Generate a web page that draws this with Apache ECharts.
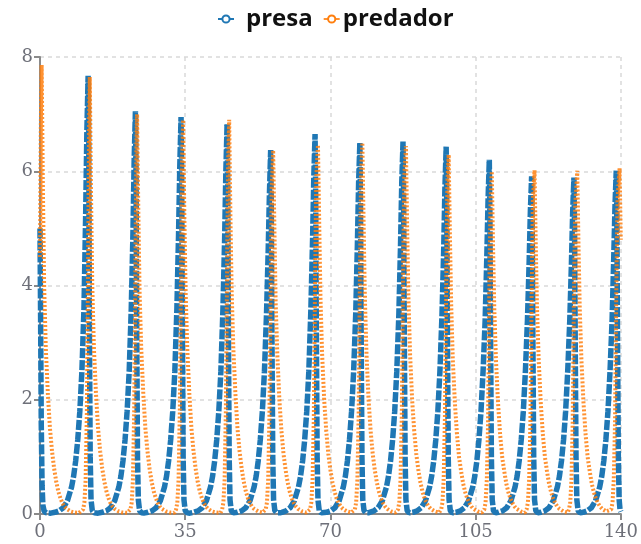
<!DOCTYPE html>
<html>
<head>
<meta charset="utf-8">
<script src="https://cdn.jsdelivr.net/npm/echarts@6/dist/echarts.min.js"></script>
<style>html,body{margin:0;padding:0;background:#fff}#c{width:641px;height:544px}</style>
</head>
<body>
<div id="c"></div>
<script>
var xTicks = [0, 35, 70, 105, 140];
var yTicks = [0, 2, 4, 6, 8];
var seriesNames = ['presa', 'predador'];

var presaT = [0,0.15,0.3,0.5,0.7,1.0,1.5,
2.6,3.6,4.6,5.6,6.6,7.6,8.1,8.6,9.1,9.6,10.1,10.6,11.0,11.3,11.6,11.75,11.9,12.1,12.3,12.6,13.1,
14.0,15.0,16.0,17.0,18.0,19.0,19.5,20.0,20.5,21.0,21.5,22.0,22.4,22.7,23.0,23.15,23.3,23.5,23.7,24.0,24.5,
25.0,26.0,27.0,28.0,29.0,30.0,30.5,31.0,31.5,32.0,32.5,33.0,33.4,33.7,34.0,34.15,34.3,34.5,34.7,35.0,35.5,
36.1,37.1,38.1,39.1,40.1,41.1,41.6,42.1,42.6,43.1,43.6,44.1,44.5,44.8,45.1,45.25,45.4,45.6,45.8,46.1,46.6,
47.6,48.6,49.6,50.6,51.6,52.1,52.6,53.1,53.6,54.1,54.6,55.0,55.3,55.6,55.75,55.9,56.1,56.3,56.6,57.1,
57.8,58.3,59.3,60.3,61.3,62.3,62.8,63.3,63.8,64.3,64.8,65.3,65.7,66.0,66.3,66.45,66.6,66.8,67.0,67.3,67.8,
68.1,69.1,70.1,71.1,72.1,73.1,73.6,74.1,74.6,75.1,75.6,76.1,76.5,76.8,77.1,77.25,77.4,77.6,77.8,78.1,78.6,
79.1,79.5,80.5,81.5,82.5,83.5,84.0,84.5,85.0,85.5,86.0,86.5,86.9,87.2,87.5,87.65,87.8,88.0,88.2,88.5,89.0,
89.9,90.9,91.9,92.9,93.9,94.4,94.9,95.4,95.9,96.4,96.9,97.3,97.6,97.9,98.05,98.2,98.4,98.6,98.9,99.4,
100.3,101.3,102.3,103.3,104.3,104.8,105.3,105.8,106.3,106.8,107.3,107.7,108.0,108.3,108.45,108.6,108.8,109.0,109.3,109.8,
110.5,111.5,112.5,113.5,114.5,115.0,115.5,116.0,116.5,117.0,117.5,117.9,118.2,118.5,118.65,118.8,119.0,119.2,119.5,120.0,
120.7,121.7,122.7,123.7,124.7,125.2,125.7,126.2,126.7,127.2,127.7,128.1,128.4,128.7,128.85,129.0,129.2,129.4,129.7,130.2,
130.9,131.9,132.9,133.9,134.9,135.4,135.9,136.4,136.9,137.4,137.9,138.3,138.6,138.9,139.05,139.2,139.4,139.6,139.8,140.0];
var presaV = [5.0,3.4,1.6,0.5,0.15,0.05,0.02,
0.015,0.03,0.055,0.11,0.23,0.47,0.66,0.93,1.3,1.8,2.5,3.6,5.2,6.7,7.67,6.5,3.4,1.0,0.25,0.06,0.02,
0.015,0.03,0.055,0.11,0.23,0.47,0.66,0.93,1.3,1.8,2.5,3.6,4.9,6.2,7.05,6.0,3.4,1.0,0.25,0.06,0.02,
0.015,0.03,0.055,0.11,0.23,0.47,0.66,0.93,1.3,1.8,2.5,3.6,4.9,6.1,6.95,5.9,3.4,1.0,0.25,0.06,0.02,
0.015,0.03,0.055,0.11,0.23,0.47,0.66,0.93,1.3,1.8,2.5,3.6,4.8,6.0,6.83,5.8,3.4,1.0,0.25,0.06,0.02,
0.03,0.055,0.11,0.23,0.47,0.66,0.93,1.3,1.8,2.5,3.5,4.6,5.6,6.37,5.4,3.2,1.0,0.25,0.06,0.02,
0.02,0.03,0.055,0.11,0.23,0.47,0.66,0.93,1.3,1.8,2.5,3.6,4.8,5.9,6.65,5.6,3.3,1.0,0.25,0.06,0.02,
0.015,0.03,0.055,0.11,0.23,0.47,0.66,0.93,1.3,1.8,2.5,3.5,4.7,5.8,6.50,5.5,3.3,1.0,0.25,0.06,0.02,
0.02,0.03,0.055,0.11,0.23,0.47,0.66,0.93,1.3,1.8,2.5,3.5,4.7,5.8,6.52,5.5,3.3,1.0,0.25,0.06,0.02,
0.03,0.055,0.11,0.23,0.47,0.66,0.93,1.3,1.8,2.5,3.5,4.6,5.7,6.43,5.4,3.3,1.0,0.25,0.06,0.02,
0.03,0.055,0.11,0.23,0.47,0.66,0.93,1.3,1.8,2.5,3.4,4.5,5.5,6.20,5.2,3.2,1.0,0.25,0.06,0.02,
0.03,0.055,0.11,0.23,0.47,0.66,0.93,1.3,1.8,2.5,3.4,4.4,5.3,5.91,5.0,3.1,1.0,0.25,0.06,0.02,
0.03,0.055,0.11,0.23,0.47,0.66,0.93,1.3,1.8,2.5,3.4,4.4,5.3,5.89,5.0,3.1,1.0,0.25,0.06,0.02,
0.03,0.055,0.11,0.23,0.47,0.66,0.93,1.3,1.8,2.5,3.4,4.5,5.4,6.01,5.1,3.1,1.0,0.25,0.08,0.04];

var predT = [0,0.2,0.4,0.7,1.0,1.4,1.9,2.4,2.9,3.4,3.9,4.4,4.9,5.4,5.9,6.4,7.4,8.4,9.4,
10.4,10.7,11.0,11.3,11.6,11.85,12.0,12.3,12.6,13.0,13.5,14.0,14.5,15.0,15.5,16.0,16.5,17.0,17.5,18.0,19.0,20.0,21.0,
21.8,22.1,22.4,22.7,23.0,23.25,23.4,23.7,24.0,24.4,24.9,25.4,25.9,26.4,26.9,27.4,27.9,28.4,28.9,29.4,30.4,31.4,32.4,
32.8,33.1,33.4,33.7,34.0,34.25,34.5,34.8,35.1,35.5,36.0,36.5,37.0,37.5,38.0,38.5,39.0,39.5,40.0,40.5,41.5,42.5,43.5,
43.9,44.2,44.5,44.8,45.1,45.35,45.6,45.9,46.2,46.6,47.1,47.6,48.1,48.6,49.1,49.6,50.1,50.6,51.1,51.6,52.6,53.6,
54.4,54.7,55.0,55.3,55.6,55.85,56.2,56.5,56.8,57.2,57.7,58.2,58.7,59.2,59.7,60.2,60.7,61.2,61.7,62.2,63.2,64.2,
65.1,65.4,65.7,66.0,66.3,66.6,67.0,67.3,67.6,68.0,68.5,69.0,69.5,70.0,70.5,71.0,71.5,72.0,72.5,73.0,74.0,75.0,
75.9,76.2,76.5,76.8,77.1,77.4,77.7,78.0,78.3,78.7,79.2,79.7,80.2,80.7,81.2,81.7,82.2,82.7,83.2,83.7,84.7,85.7,
86.3,86.6,86.9,87.2,87.5,87.8,88.2,88.5,88.8,89.2,89.7,90.2,90.7,91.2,91.7,92.2,92.7,93.2,93.7,94.2,95.2,96.2,
96.7,97.0,97.3,97.6,97.9,98.2,98.5,98.8,99.1,99.5,100.0,100.5,101.0,101.5,102.0,102.5,103.0,103.5,104.0,104.5,105.5,106.5,
107.1,107.4,107.7,108.0,108.3,108.6,108.9,109.2,109.5,109.9,110.4,110.9,111.4,111.9,112.4,112.9,113.4,113.9,114.4,114.9,115.9,116.9,
117.3,117.6,117.9,118.2,118.5,118.8,119.2,119.5,119.8,120.2,120.7,121.2,121.7,122.2,122.7,123.2,123.7,124.2,124.7,125.2,126.2,127.2,
127.5,127.8,128.1,128.4,128.7,129.0,129.5,129.8,130.1,130.5,131.0,131.5,132.0,132.5,133.0,133.5,134.0,134.5,135.0,135.5,136.5,
137.7,138.0,138.3,138.6,138.9,139.2,139.7,140.0];
var predV = [4.5,6.8,7.86,5.7,4.0,2.9,2.1,1.5,1.1,0.8,0.57,0.4,0.28,0.19,0.13,0.09,0.045,0.025,0.02,
0.08,0.2,0.6,1.8,4.5,6.9,7.65,5.6,4.0,2.9,2.1,1.5,1.1,0.8,0.57,0.4,0.28,0.19,0.13,0.09,0.045,0.025,0.02,
0.08,0.2,0.6,1.8,4.4,6.5,7.0,5.3,3.9,2.9,2.1,1.5,1.1,0.8,0.57,0.4,0.28,0.19,0.13,0.09,0.045,0.025,0.02,
0.08,0.2,0.6,1.8,4.3,6.2,6.9,5.2,3.9,2.9,2.1,1.5,1.1,0.8,0.57,0.4,0.28,0.19,0.13,0.09,0.045,0.025,0.02,
0.08,0.2,0.6,1.8,4.3,6.2,6.9,5.2,3.9,2.9,2.1,1.5,1.1,0.8,0.57,0.4,0.28,0.19,0.13,0.09,0.045,0.025,
0.08,0.2,0.6,1.7,4.0,5.7,6.37,5.0,3.7,2.8,2.0,1.45,1.05,0.77,0.55,0.39,0.27,0.19,0.13,0.09,0.045,0.025,
0.08,0.2,0.6,1.7,4.1,5.9,6.46,5.1,3.8,2.8,2.0,1.45,1.05,0.77,0.55,0.39,0.27,0.19,0.13,0.09,0.045,0.025,
0.08,0.2,0.6,1.7,4.1,6.0,6.50,5.1,3.8,2.8,2.0,1.45,1.05,0.77,0.55,0.39,0.27,0.19,0.13,0.09,0.045,0.025,
0.08,0.2,0.6,1.7,4.1,5.9,6.44,5.0,3.8,2.8,2.0,1.45,1.05,0.77,0.55,0.39,0.27,0.19,0.13,0.09,0.045,0.025,
0.08,0.2,0.6,1.7,4.0,5.8,6.29,4.9,3.7,2.7,1.95,1.4,1.0,0.75,0.53,0.38,0.27,0.19,0.13,0.09,0.045,0.025,
0.08,0.2,0.6,1.6,3.9,5.5,6.0,4.7,3.6,2.7,1.95,1.4,1.0,0.75,0.53,0.38,0.27,0.19,0.13,0.09,0.045,0.025,
0.08,0.2,0.6,1.6,3.8,5.5,6.02,4.7,3.6,2.7,1.95,1.4,1.0,0.75,0.53,0.38,0.27,0.19,0.13,0.09,0.045,0.025,
0.08,0.2,0.6,1.6,3.8,5.4,6.01,4.7,3.6,2.7,1.95,1.4,1.0,0.75,0.53,0.38,0.27,0.19,0.13,0.09,0.045,
0.08,0.2,0.6,1.6,3.9,5.5,6.05,4.8];

function zip(t, v) { var out = []; for (var i = 0; i < t.length; i++) out.push([t[i], v[i]]); return out; }

var chart = echarts.init(document.getElementById('c'), null, {renderer: 'canvas'});
var axisLabel = {color: '#6E7079', fontFamily: 'DejaVu Serif', fontSize: 18};
chart.setOption({
  animation: false,
  color: ['#1f77b4', '#ff7f0e'],
  legend: {
    top: 2, left: 212,
    itemWidth: 16, itemHeight: 9, itemGap: 10,
    textStyle: {fontFamily: 'Open Sans', fontWeight: 'bold', fontSize: 24, color: '#111'},
    lineStyle: {type: 'solid'},
    data: [
      {name: seriesNames[0], textStyle: {padding: [0, 0, 0, 7]}},
      {name: seriesNames[1], textStyle: {padding: [0, 0, 0, -2]}}
    ]
  },
  grid: {left: 40, right: 17, top: 57, bottom: 30, containLabel: false},
  xAxis: {
    type: 'value', min: xTicks[0], max: xTicks[xTicks.length - 1], interval: xTicks[1] - xTicks[0],
    axisLine: {show: true, lineStyle: {color: '#8a8a8a', width: 2}},
    axisTick: {show: true, length: 6, lineStyle: {color: '#8a8a8a', width: 2}},
    axisLabel: Object.assign({margin: 9}, axisLabel),
    splitLine: {show: true, lineStyle: {color: '#d9d9d9', width: 1.5, type: [4, 4]}}
  },
  yAxis: {
    type: 'value', min: yTicks[0], max: yTicks[yTicks.length - 1], interval: yTicks[1] - yTicks[0],
    axisLine: {show: true, lineStyle: {color: '#8a8a8a', width: 2}},
    axisTick: {show: true, length: 6, lineStyle: {color: '#8a8a8a', width: 2}},
    axisLabel: Object.assign({margin: 7}, axisLabel),
    splitLine: {show: true, lineStyle: {color: '#d9d9d9', width: 1.5, type: [4, 4]}}
  },
  series: [
    {name: seriesNames[0], type: 'line', data: zip(presaT, presaV), symbol: 'emptyCircle', showSymbol: false,
     lineStyle: {width: 5.5, type: [10, 2]}, smooth: false},
    {name: seriesNames[1], type: 'line', data: zip(predT, predV), symbol: 'emptyCircle', showSymbol: false,
     lineStyle: {width: 4, type: [2, 2], opacity: 0.85}, smooth: false}
  ]
});
</script>
</body>
</html>
